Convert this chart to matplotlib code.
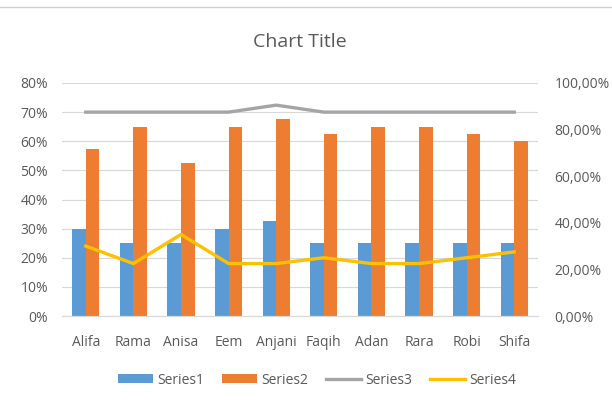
import matplotlib.pyplot as plt
import numpy as np
from matplotlib.ticker import FuncFormatter

names = ['Alifa', 'Rama', 'Anisa', 'Eem', 'Anjani', 'Faqih', 'Adan', 'Rara', 'Robi', 'Shifa']
series1 = [0.30, 0.25, 0.25, 0.30, 0.325, 0.25, 0.25, 0.25, 0.25, 0.25]
series2 = [0.575, 0.65, 0.525, 0.65, 0.675, 0.625, 0.65, 0.65, 0.625, 0.60]
# series 3 and 4 are plotted against the secondary axis
series3 = [0.875, 0.875, 0.875, 0.875, 0.905, 0.875, 0.875, 0.875, 0.875, 0.875]
series4 = [0.30, 0.225, 0.35, 0.225, 0.225, 0.25, 0.225, 0.225, 0.25, 0.275]

plt.rcParams['font.family'] = ['Open Sans', 'DejaVu Sans']
text_col = '#595959'

fig = plt.figure(figsize=(6.12, 4.05), dpi=100)
ax = fig.add_axes([62 / 612, 1 - 316 / 405, 476 / 612, 233 / 405])
ax2 = ax.twinx()

x = np.arange(len(names))
w = 0.285
ax.bar(x - w / 2, series1, w, color='#5b9bd5', label='Series1', zorder=2)
ax.bar(x + w / 2, series2, w, color='#ed7d31', label='Series2', zorder=2)
ax2.plot(x, series3, color='#a5a5a5', lw=2.4, label='Series3', solid_joinstyle='round')
ax2.plot(x, series4, color='#ffc000', lw=2.4, label='Series4', solid_joinstyle='round')

ax.set_xlim(-0.5, len(names) - 0.5)
ax.set_ylim(0, 0.8)
ax2.set_ylim(0, 1.0)
ax.set_yticks(np.arange(0, 0.81, 0.1))
ax2.set_yticks(np.arange(0, 1.01, 0.2))
ax.yaxis.set_major_formatter(FuncFormatter(lambda v, p: f'{v * 100:.0f}%'))
ax2.yaxis.set_major_formatter(FuncFormatter(lambda v, p: f'{v * 100:.2f}%'.replace('.', ',')))
ax.set_xticks(x)
ax.set_xticklabels(names)

ax.grid(axis='y', color='#d9d9d9', lw=0.8, zorder=0)
ax.set_axisbelow(True)
for a in (ax, ax2):
    for s in ('top', 'left', 'right'):
        a.spines[s].set_visible(False)
    a.spines['bottom'].set_color('#d9d9d9')
    a.tick_params(length=0, colors=text_col, labelsize=10)
ax.tick_params(axis='y', pad=10)
ax2.tick_params(axis='y', pad=12)
ax.tick_params(axis='x', pad=14)

fig.text(0.49, 1 - 42 / 405, 'Chart Title', ha='center', va='center', fontsize=14, color=text_col)
fig.add_artist(plt.Line2D([0, 1], [1 - 7 / 405, 1 - 7 / 405], color='#d0d0d0', lw=1))

h1, l1 = ax.get_legend_handles_labels()
h2, l2 = ax2.get_legend_handles_labels()
fig.legend(h1 + h2, l1 + l2, loc='center', bbox_to_anchor=(0.518, 1 - 380 / 405), ncol=4,
           frameon=False, fontsize=10, labelcolor=text_col, handlelength=2.5,
           handleheight=0.6, columnspacing=1.3, handletextpad=0.3)

plt.savefig('out.png', dpi=100)
